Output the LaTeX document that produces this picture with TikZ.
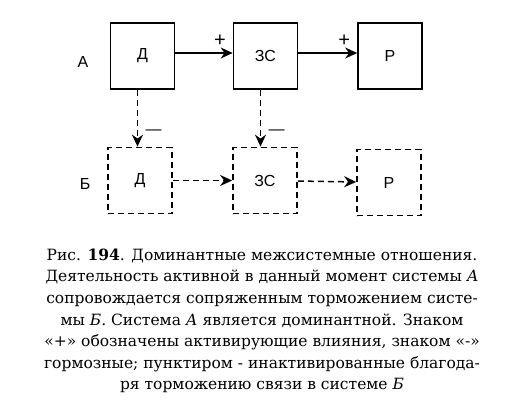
\documentclass[tikz,border=0pt]{standalone}
\usepackage{fontspec}
\setmainfont{DejaVu Serif}
\newfontfamily\labelfont{Liberation Sans}
\usetikzlibrary{arrows.meta}

\begin{document}
\begin{tikzpicture}[x=1pt, y=-1pt,
  every node/.style={font=\labelfont\fontsize{16}{18}\selectfont},
  sysbox/.style={draw, line width=1.7pt, minimum width=64pt, minimum height=66pt},
  offbox/.style={sysbox, dash pattern=on 6pt off 4pt},
  link/.style={-{Stealth[length=12pt, width=11pt]}, line width=1.5pt},
  offlink/.style={link, dash pattern=on 6pt off 4pt},
  sign/.style={font=\labelfont\fontsize{20}{20}\selectfont}]

  \useasboundingbox (0,0) rectangle (521,412);

  %% Top row: system A (active)
  \node (labA) at (83,62) {А};
  \node[sysbox] (d1) at (142.5,56) {Д};
  \node[sysbox] (zs1) at (265.5,56) {ЗС};
  \node[sysbox] (r1) at (390,56) {Р};

  \draw[link] ([yshift=3pt]d1.east) -- node[pos=0.78, above=2pt, sign] {+} ([yshift=3pt]zs1.west);
  \draw[link] ([yshift=3pt]zs1.east) -- node[pos=0.78, above=2pt, sign] {+} ([yshift=3pt]r1.west);

  %% Bottom row: system B (inhibited)
  \node (labB) at (85,184) {Б};
  \node[offbox] (d2) at (140,180.5) {Д};
  \node[offbox] (zs2) at (265,180.5) {ЗС};
  \node[offbox] (r2) at (389,182.5) {Р};

  \draw[offlink] (d2) -- (zs2);
  \draw[offlink] (zs2) -- (r2);

  % inhibition from A to B
  \draw[offlink] ([xshift=-5pt]d1.south) -- node[pos=0.75, right=4pt] {—} ([xshift=-5pt]d1.south |- d2.north);
  \draw[offlink] ([xshift=-5pt]zs1.south) -- node[pos=0.75, right=4pt] {—} ([xshift=-5pt]zs1.south |- zs2.north);

  %% Caption
  \node[font=\rmfamily\fontsize{15.5}{21.6}\selectfont, align=center] (caption) at (262,321) {%
    Рис. \textbf{194}. Доминантные межсистемные отношения.\\
    Деятельность активной в данный момент системы \textit{А}\\
    сопровождается сопряженным торможением систе-\\
    мы \textit{Б}. Система \textit{А} является доминантной. Знаком\\
    «+» обозначены активирующие влияния, знаком «-»\\
    гормозные; пунктиром - инактивированные благода-\\
    ря торможению связи в системе \textit{Б}};

\end{tikzpicture}
\end{document}
